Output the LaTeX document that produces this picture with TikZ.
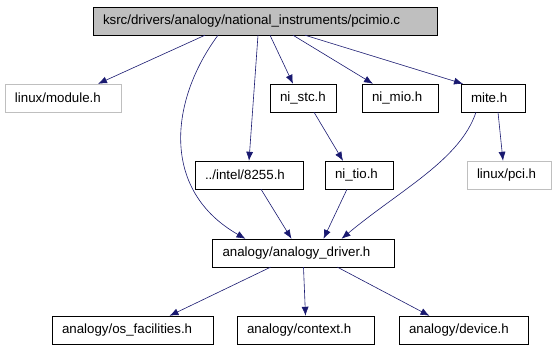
\documentclass[tikz,border=0pt]{standalone}
\usepackage{fontspec}
\setmainfont{Liberation Sans}
\usetikzlibrary{arrows.meta}
\definecolor{edgeblue}{RGB}{25,25,112}
\definecolor{extgray}{RGB}{191,191,191}
\tikzstyle{file}=[rectangle, draw=black, minimum height=28pt, inner xsep=10pt, inner ysep=0pt, align=left, font=\fontsize{13.3}{16}\selectfont]
\tikzstyle{extfile}=[file, draw=extgray]
\tikzstyle{dep}=[edgeblue, line width=0.6pt]
\tikzset{>={Latex[length=9pt,width=7pt]}}

\begin{document}
\begin{tikzpicture}[x=1pt, y=-1pt]
        \useasboundingbox (0,0) rectangle (555,349);

        % Source file
        \node at (265, 21) [file, fill=extgray, text width=324pt] (pcimio) {ksrc/drivers/analogy/national\_instruments/pcimio.c};

        % First level includes
        \node at (63, 98) [extfile, text width=96pt] (module) {linux/module.h};
        \node at (303, 98) [file, text width=46pt] (nistc) {ni\_stc.h};
        \node at (400, 98) [file, text width=56pt] (nimio) {ni\_mio.h};
        \node at (493, 98) [file, text width=44pt] (mite) {mite.h};

        % Second level
        \node at (249, 175) [file, text width=88pt] (i8255) {../intel/8255.h};
        \node at (359, 175) [file, text width=48pt] (nitio) {ni\_tio.h};
        \node at (509, 175) [extfile, text width=64pt] (pci) {linux/pci.h};

        % Driver header
        \node at (303.5, 253) [file, text width=162pt] (driver) {analogy/analogy\_driver.h};

        % Bottom row
        \node at (132.5, 330) [file, text width=141pt] (osfac) {analogy/os\_facilities.h};
        \node at (305.5, 330) [file, text width=117pt] (context) {analogy/context.h};
        \node at (463.5, 330) [file, text width=109pt] (device) {analogy/device.h};

        % Edges from the source file
        \draw [dep, ->] ([xshift=-60pt]pcimio.south) -- ([xshift=35pt]module.north);
        \draw [dep, ->] ([xshift=-47pt]pcimio.south) .. controls (170,100) and (160,190) .. ([xshift=-58pt]driver.north);
        \draw [dep, ->] ([xshift=-7pt]pcimio.south) -- ([xshift=0pt]i8255.north);
        \draw [dep, ->] ([xshift=5pt]pcimio.south) -- ([xshift=-10pt]nistc.north);
        \draw [dep, ->] ([xshift=28pt]pcimio.south) -- ([xshift=-27pt]nimio.north);
        \draw [dep, ->] ([xshift=40pt]pcimio.south) -- ([xshift=-30pt]mite.north);

        % Middle edges
        \draw [dep, ->] ([xshift=11pt]nistc.south) -- ([xshift=-16pt]nitio.north);
        \draw [dep, ->] ([xshift=-17pt]mite.south) .. controls (460,160) and (400,190) .. ([xshift=38pt]driver.north);
        \draw [dep, ->] ([xshift=5pt]mite.south) -- ([xshift=-6pt]pci.north);
        \draw [dep, ->] ([xshift=12pt]i8255.south) -- ([xshift=-12pt]driver.north);
        \draw [dep, ->] ([xshift=-12pt]nitio.south) -- ([xshift=20pt]driver.north);

        % Edges from the driver header
        \draw [dep, ->] ([xshift=-33pt]driver.south) -- ([xshift=37pt]osfac.north);
        \draw [dep, ->] (driver.south) -- (context.north);
        \draw [dep, ->] ([xshift=34pt]driver.south) -- ([xshift=-34pt]device.north);
\end{tikzpicture}
\end{document}
